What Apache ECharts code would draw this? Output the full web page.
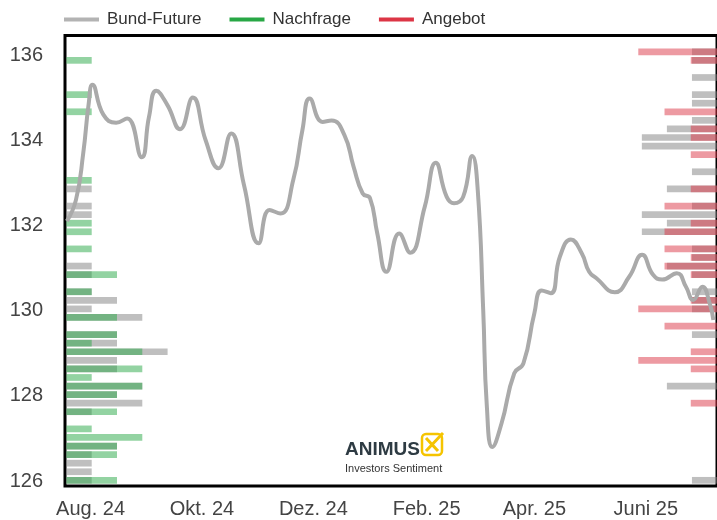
<!DOCTYPE html>
<html>
<head>
<meta charset="utf-8">
<script src="https://cdn.jsdelivr.net/npm/echarts@6/dist/echarts.min.js"></script>
<style>
  html, body { margin: 0; padding: 0; background: #fff; }
  #chart_main { width: 717px; height: 520px; }
</style>
</head>
<body>
<div id="chart_main"></div>
<script>
// Bund-Future Kursverlauf
var lineDates = ['2024-07-19','2024-07-24','2024-07-28','2024-07-31','2024-08-02','2024-08-08','2024-08-15','2024-08-21','2024-08-29','2024-09-02',
  '2024-09-06','2024-09-12','2024-09-19','2024-09-26','2024-10-03','2024-10-10','2024-10-17','2024-10-24','2024-11-01','2024-11-07',
  '2024-11-13','2024-11-20','2024-11-25','2024-11-29','2024-12-06','2024-12-11','2024-12-18','2024-12-23','2024-12-28','2025-01-01',
  '2025-01-05','2025-01-10','2025-01-17','2025-01-23','2025-01-31','2025-02-06','2025-02-12','2025-02-16','2025-02-21','2025-02-26',
  '2025-03-01','2025-03-04','2025-03-06','2025-03-09','2025-03-14','2025-03-21','2025-03-26','2025-04-01','2025-04-05','2025-04-10',
  '2025-04-15','2025-04-21','2025-04-27','2025-05-01','2025-05-05','2025-05-15','2025-05-23','2025-05-30','2025-06-05','2025-06-10',
  '2025-06-18','2025-06-23','2025-06-27','2025-07-02','2025-07-06','2025-07-08'];
var lineValues = [132.1,132.6,133.7,134.87,135.3,134.6,134.41,134.51,133.6,134.55,
  135.16,134.83,134.26,135.0,134.0,133.34,134.16,132.95,131.58,132.36,
  132.28,133.07,134.24,134.98,134.43,134.46,134.12,133.38,132.75,132.64,
  131.81,130.91,131.81,131.36,132.44,133.47,132.67,132.52,132.67,133.63,
  132.83,130.0,127.74,126.8,127.35,128.53,128.76,129.94,130.47,130.41,
  131.27,131.67,131.34,130.91,130.76,130.43,130.8,131.31,130.84,130.73,
  130.88,130.56,130.25,130.56,130.17,129.78];

// x-Achse
var xTickDates = ['2024-08-01','2024-10-01','2024-12-01','2025-02-01','2025-04-01','2025-06-01'];
var xTickLabels = ['Aug. 24','Okt. 24','Dez. 24','Feb. 25','Apr. 25','Juni 25'];
var yTickValues = [126, 128, 130, 132, 134, 136];

// Preisstufen fuer die Balken (unten -> oben)
var priceLevels = ['126.0','126.2','126.4','126.6','126.8','127.0','127.2','127.4','127.6','127.8',
  '128.0','128.2','128.4','128.6','128.8','129.0','129.2','129.4','129.6','129.8',
  '130.0','130.2','130.4','130.6','130.8','131.0','131.2','131.4','131.6','131.8',
  '132.0','132.2','132.4','132.6','132.8','133.0','133.2','133.4','133.6','133.8',
  '134.0','134.2','134.4','134.6','134.8','135.0','135.2','135.4','135.6','135.8','136.0'];

// linke Seite: neutral (grau) und Nachfrage (gruen)
var leftNeutral = [1,1,1,1,2,0,0,0,1,3, 2,3,0,2,2,4,2,2,0,3, 1,2,1,0,1,1,0,0,0,0,
  0,1,1,0,1,0,0,0,0,0, 0,0,0,0,0,0,0,0,0,0, 0];
var demand = [2,0,0,2,2,3,1,0,2,0, 2,3,1,3,0,3,1,2,0,2, 0,0,1,0,2,0,0,1,0,1,
  1,0,0,0,0,1,0,0,0,0, 0,0,0,1,0,1,0,0,0,1, 0];
// rechte Seite: neutral (grau) und Angebot (rot)
var rightNeutral = [1,0,0,0,0,0,0,0,0,0, 0,2,0,0,0,0,0,1,0,0, 1,1,1,0,1,2,1,1,0,3,
  2,3,1,0,2,0,1,0,0,3, 3,2,1,0,1,1,0,1,0,1, 1];
var supply = [0,0,0,0,0,0,0,0,0,1, 0,0,0,1,3,1,0,0,2,0, 3,1,0,0,1,2,1,2,0,2,
  1,0,2,0,1,0,0,0,1,0, 1,1,0,2,0,0,0,0,0,1, 3];

function toTs(s) {
  var p = s.split('-');
  return new Date(+p[0], +p[1] - 1, +p[2]).getTime();
}

var xTickTimes = xTickDates.map(toTs);
var lineData = lineDates.map(function (d, i) { return [toTs(d), lineValues[i]]; });

var FONT = '"Liberation Sans", Arial, sans-serif';
var GRAY = 'rgba(128,128,128,0.5)';
var GREEN = '#28a745';
var RED = '#dc3545';

var myChart = echarts.init(document.getElementById('chart_main'));

var option = {
  animation: false,
  backgroundColor: '#fff',
  textStyle: { fontFamily: FONT },
  legend: {
    left: 59,
    top: 6,
    icon: 'rect',
    itemWidth: 35,
    itemHeight: 4,
    itemGap: 28,
    textStyle: { fontSize: 17, color: '#333', fontFamily: FONT, padding: [0, 0, 0, 3] },
    data: [
      { name: 'Bund-Future', itemStyle: { color: '#b3b3b3', opacity: 1 } },
      { name: 'Nachfrage', itemStyle: { color: GREEN, opacity: 1 } },
      { name: 'Angebot', itemStyle: { color: RED, opacity: 1 } }
    ]
  },
  grid: [
    { left: 65, right: -4, top: 35.5, bottom: 34, show: true, borderColor: '#000', borderWidth: 3 },
    { left: 66.4, width: 253, top: 47.5, bottom: 35.4 },
    { right: -5.5, width: 260, top: 47.5, bottom: 35.4 }
  ],
  xAxis: [
    {
      // Zeitachse als Zahlenachse (Zeitstempel)
      type: 'value',
      gridIndex: 0,
      min: toTs('2024-07-18'),
      max: toTs('2025-07-10'),
      axisLine: { show: false },
      axisTick: { show: false },
      splitLine: { show: false },
      axisLabel: {
        customValues: xTickTimes,
        fontSize: 20,
        color: '#444',
        fontFamily: FONT,
        margin: 13,
        formatter: function (val) {
          var i = xTickTimes.indexOf(val);
          return i >= 0 ? xTickLabels[i] : '';
        }
      }
    },
    { type: 'value', gridIndex: 1, min: 0, max: 10, show: false },
    { type: 'value', gridIndex: 2, min: 0, max: 10.16, inverse: true, show: false },
    { type: 'value', gridIndex: 2, min: 0, max: 9.7, inverse: true, show: false }
  ],
  yAxis: [
    {
      type: 'value',
      gridIndex: 0,
      min: 125.883,
      max: 136.458,
      axisLine: { show: false },
      axisTick: { show: false },
      splitLine: { show: false },
      axisLabel: {
        customValues: yTickValues,
        fontSize: 20,
        color: '#444',
        fontFamily: FONT,
        margin: 22
      }
    },
    { type: 'category', gridIndex: 1, data: priceLevels, show: false },
    { type: 'category', gridIndex: 2, data: priceLevels, show: false }
  ],
  series: [
    {
      name: 'Bund-Future',
      type: 'line',
      xAxisIndex: 0,
      yAxisIndex: 0,
      smooth: 0.5,
      showSymbol: false,
      lineStyle: { color: '#aaaaaa', width: 4 },
      itemStyle: { color: '#aaaaaa' },
      data: lineData
    },
    {
      name: 'Neutral',
      type: 'bar',
      xAxisIndex: 1,
      yAxisIndex: 1,
      barWidth: 6.7,
      barGap: '-100%',
      itemStyle: { color: GRAY },
      data: leftNeutral
    },
    {
      name: 'Nachfrage',
      type: 'bar',
      xAxisIndex: 1,
      yAxisIndex: 1,
      barWidth: 6.7,
      barGap: '-100%',
      itemStyle: { color: 'rgba(40,167,69,0.5)' },
      data: demand
    },
    {
      name: 'Neutral',
      type: 'bar',
      xAxisIndex: 2,
      yAxisIndex: 2,
      barWidth: 6.7,
      barGap: '-100%',
      itemStyle: { color: GRAY },
      data: rightNeutral
    },
    {
      name: 'Angebot',
      type: 'bar',
      xAxisIndex: 3,
      yAxisIndex: 2,
      barWidth: 6.7,
      barGap: '-100%',
      itemStyle: { color: 'rgba(220,53,69,0.5)' },
      data: supply
    }
  ],
  // Logo
  graphic: [
    { type: 'text', left: 345, top: 440, style: { text: 'ANIMUS', font: 'bold 19px ' + FONT, fill: '#2e3b43' } },
    { type: 'rect', shape: { x: 422, y: 434, width: 20, height: 21, r: 4 }, style: { fill: 'none', stroke: '#f5c400', lineWidth: 2.5 } },
    { type: 'line', shape: { x1: 426, y1: 438, x2: 438, y2: 451 }, style: { stroke: '#f5c400', lineWidth: 3 } },
    { type: 'line', shape: { x1: 426, y1: 451, x2: 443, y2: 433 }, style: { stroke: '#f5c400', lineWidth: 3 } },
    { type: 'text', left: 345, top: 463, style: { text: 'Investors Sentiment', font: '11px ' + FONT, fill: '#333' } }
  ]
};

myChart.setOption(option);
</script>
</body>
</html>
